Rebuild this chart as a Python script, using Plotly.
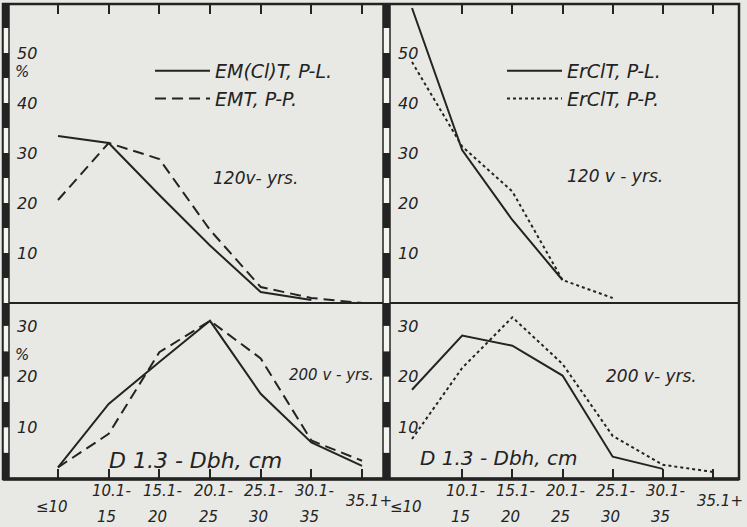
import plotly.graph_objects as go

# ---------------- data ----------------
categories = ["≤10", "10.1-15", "15.1-20", "20.1-25", "25.1-30", "30.1-35", "35.1+"]
tick_line1 = ["≤10", "10.1-", "15.1-", "20.1-", "25.1-", "30.1-", "35.1+"]
tick_line2 = ["", "15", "20", "25", "30", "35", ""]
y_ticks_top = [10, 20, 30, 40, 50]
y_ticks_bottom = [10, 20, 30]

# 120 years (top panels), per cent
emclt_pl_120 = [33.4, 32.0, 21.6, 11.5, 2.2, 0.6, None]
emt_pp_120 = [20.6, 32.0, 28.8, 14.6, 3.2, 1.0, 0.0]
erclt_pl_120 = [59.0, 30.6, 16.6, 4.6, None, None, None]
erclt_pp_120 = [48.2, 31.3, 22.3, 4.6, 1.0, None, None]

# 200 years (bottom panels), per cent
emclt_pl_200 = [2.1, 14.6, 22.9, 31.0, 16.6, 7.0, 2.4]
emt_pp_200 = [2.1, 8.7, 24.8, 31.0, 23.6, 7.4, 3.4]
erclt_pl_200 = [17.4, 28.1, 26.1, 20.2, 4.2, 1.8, None]
erclt_pp_200 = [7.7, 21.7, 31.7, 22.5, 8.3, 2.6, 1.2]

# ---------------- geometry helpers ----------------
W, H = 747, 527
def px(x):
    return x / W
def py(y):
    return 1 - y / H

INK = "#232323"
BG = "#e8e8e4"
FONT = "DejaVu Sans"

idx = list(range(len(categories)))

fig = go.Figure()

def add(xa, ya, yv, dash, name, legend, show):
    fig.add_trace(go.Scatter(
        x=idx, y=yv, xaxis=xa, yaxis=ya, mode="lines", name=name,
        line=dict(color=INK, width=2, dash=dash),
        showlegend=show, legend=legend, connectgaps=False,
        customdata=categories, hovertemplate="%{customdata}: %{y}%<extra></extra>"))

DASH = "11px,6px"
DOT = "3px,3px"
add("x", "y", emclt_pl_120, "solid", "EM(Cl)T, P-L.", "legend", True)
add("x", "y", emt_pp_120, DASH, "EMT, P-P.", "legend", True)
add("x2", "y2", erclt_pl_120, "solid", "ErClT, P-L.", "legend2", True)
add("x2", "y2", erclt_pp_120, DOT, "ErClT, P-P.", "legend2", True)
add("x3", "y3", emclt_pl_200, "solid", "EM(Cl)T, P-L.", "legend", False)
add("x3", "y3", emt_pp_200, DASH, "EMT, P-P.", "legend", False)
add("x4", "y4", erclt_pl_200, "solid", "ErClT, P-L.", "legend2", False)
add("x4", "y4", erclt_pp_200, DOT, "ErClT, P-P.", "legend2", False)

# axes geometry (pixels)
L_X0, L_X1, L_C0, L_STEP = 9, 383, 58, 50.67
R_X0, R_X1, R_C0, R_STEP = 390, 738, 412, 50.17
T_Y0, T_Y1 = 5, 303       # top panel pixel rows
B_Y0, B_Y1 = 303, 478     # bottom panel pixel rows
T_SCALE, B_SCALE = 5.0, 5.07

lrange = [(L_X0 - L_C0) / L_STEP, (L_X1 - L_C0) / L_STEP]
rrange = [(R_X0 - R_C0) / R_STEP, (R_X1 - R_C0) / R_STEP]
trange = [0, (T_Y1 - T_Y0) / T_SCALE]
brange = [0, (B_Y1 - B_Y0) / B_SCALE]

tickfont = dict(family=FONT, size=16, color=INK, style="italic")

def xax(dom, rng, anchor, side):
    return dict(domain=dom, range=rng, anchor=anchor, side=side,
                tickmode="array", tickvals=idx, showticklabels=False,
                ticks="inside", ticklen=9, tickwidth=2, tickcolor=INK,
                showgrid=False, zeroline=False, showline=False, fixedrange=True)

def yax(dom, rng, anchor, vals):
    return dict(domain=dom, range=rng, anchor=anchor,
                tickmode="array", tickvals=vals, ticks="",
                ticklabelposition="inside", ticklabelstandoff=5,
                tickfont=tickfont, showgrid=False, zeroline=False,
                showline=False, fixedrange=True)

fig.update_layout(
    xaxis=xax([px(L_X0), px(L_X1)], lrange, "y", "top"),
    xaxis2=xax([px(R_X0), px(R_X1)], rrange, "y2", "top"),
    xaxis3=xax([px(L_X0), px(L_X1)], lrange, "y3", "bottom"),
    xaxis4=xax([px(R_X0), px(R_X1)], rrange, "y4", "bottom"),
    yaxis=yax([py(T_Y1), py(T_Y0)], trange, "x", y_ticks_top),
    yaxis2=yax([py(T_Y1), py(T_Y0)], trange, "x2", y_ticks_top),
    yaxis3=yax([py(B_Y1), py(B_Y0)], brange, "x3", y_ticks_bottom),
    yaxis4=yax([py(B_Y1), py(B_Y0)], brange, "x4", y_ticks_bottom),
)

legfont = dict(family=FONT, size=19, color=INK, style="italic")
fig.update_layout(
    legend=dict(x=px(150), y=py(52), xanchor="left", yanchor="top",
                bgcolor="rgba(0,0,0,0)", borderwidth=0, font=legfont,
                itemwidth=55, tracegroupgap=0),
    legend2=dict(x=px(502), y=py(52), xanchor="left", yanchor="top",
                 bgcolor="rgba(0,0,0,0)", borderwidth=0, font=legfont,
                 itemwidth=55, tracegroupgap=0),
)

# ---------------- frame & striped bars ----------------
shapes = []
shapes.append(dict(type="rect", xref="paper", yref="paper",
                   x0=px(3), x1=px(739), y0=py(479), y1=py(4),
                   line=dict(color=INK, width=2.5), fillcolor="rgba(0,0,0,0)"))
shapes.append(dict(type="line", xref="paper", yref="paper",
                   x0=px(3), x1=px(739), y0=py(479), y1=py(479),
                   line=dict(color=INK, width=3.5)))
shapes.append(dict(type="line", xref="paper", yref="paper",
                   x0=px(3), x1=px(739), y0=py(303), y1=py(303),
                   line=dict(color=INK, width=2)))

def bar(x0, x1, yref, rng, black_parity):
    v = 0.0
    k = 0
    while v < rng[1] - 1e-6:
        top = min(v + 5, rng[1])
        fill = INK if (k % 2) == black_parity else "#f4f4f0"
        shapes.append(dict(type="rect", xref="paper", yref=yref,
                           x0=px(x0), x1=px(x1), y0=v, y1=top,
                           line=dict(width=0), fillcolor=fill, layer="above"))
        v += 5
        k += 1

bar(3, 9, "y", trange, 1)
bar(3, 9, "y3", brange, 0)
bar(383, 390, "y", trange, 1)
bar(383, 390, "y3", brange, 0)
for (a, b) in [(3, 9), (383, 390)]:
    shapes.append(dict(type="rect", xref="paper", yref="paper",
                       x0=px(a), x1=px(b), y0=py(479), y1=py(4),
                       line=dict(color=INK, width=1.5), fillcolor="rgba(0,0,0,0)",
                       layer="above"))
fig.update_layout(shapes=shapes)

# ---------------- annotations ----------------
ann = []
def text(x, y, s, size, xref="paper", yref="paper", xanchor="center", xshift=0):
    ann.append(dict(x=x, y=y, xref=xref, yref=yref, text=s, showarrow=False,
                    xanchor=xanchor, yanchor="middle", xshift=xshift,
                    font=dict(family=FONT, size=size, color=INK, style="italic")))

# category labels below both bottom panels
for xa in ["x3", "x4"]:
    for i in idx:
        if tick_line2[i]:
            text(i, py(491), tick_line1[i], 15, xref=xa, xshift=3)
            text(i, py(517), tick_line2[i], 15, xref=xa, xshift=-2)
        else:
            shift = -6 if i == 0 else 7
            yy = 507 if i == 0 else 501
            text(i, py(yy), tick_line1[i], 15, xref=xa, xshift=shift)

text(px(22), py(72), "%", 15)
text(px(22), py(355), "%", 15)

text(px(255), py(178), "120v- yrs.", 17)
text(px(615), py(176), "120 v - yrs.", 17)
text(px(331), py(375), "200 v - yrs.", 15)
text(px(651), py(376), "200 v- yrs.", 17)
text(px(195), py(460), "D 1.3 - Dbh, cm", 22)
text(px(498), py(458), "D 1.3 - Dbh, cm", 20)

fig.update_layout(annotations=ann)

fig.update_layout(
    width=W, height=H, margin=dict(l=0, r=0, t=0, b=0),
    paper_bgcolor=BG, plot_bgcolor=BG,
    font=dict(family=FONT, color=INK),
)

fig.write_html("out.html")
